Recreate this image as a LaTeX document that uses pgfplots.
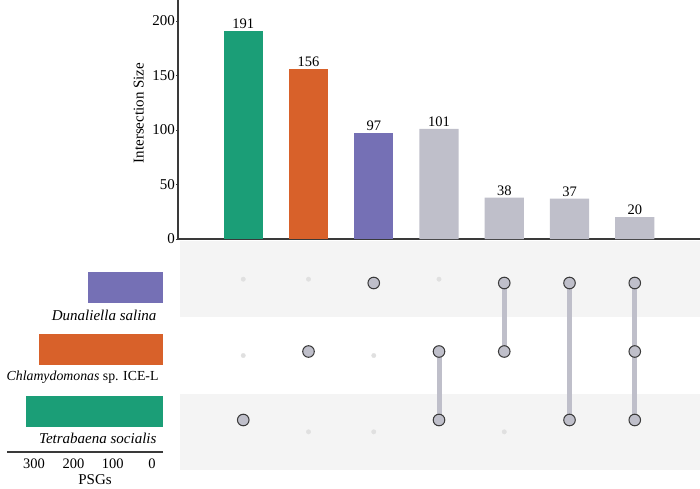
\documentclass[border=0pt]{standalone}
\usepackage{pgfplots}
\pgfplotsset{compat=1.18}
\usepackage{fontspec}
\setmainfont{Liberation Serif}
\definecolor{cgreen}{HTML}{1B9E77}
\definecolor{corange}{HTML}{D8612A}
\definecolor{cpurple}{HTML}{7570B5}
\definecolor{cgray}{HTML}{BFBFCA}
\definecolor{band}{HTML}{F4F4F4}
\definecolor{dotoff}{HTML}{E0E0E0}
\definecolor{axisgray}{HTML}{3A3A3A}
\begin{document}
\begin{tikzpicture}[x=1pt,y=1pt]
\useasboundingbox (0,0) rectangle (700,488);
% intersection size bars
\begin{axis}[at={(178pt,249pt)}, anchor=south west, scale only axis,
  width=522pt, height=239pt,
  xmin=-1, xmax=7, ymin=0, ymax=219.3,
  axis x line=bottom, axis y line=left,
  axis line style={-, line width=1.5pt, axisgray},
  xtick=\empty, ytick={0,50,100,150,200},
  tick style={axisgray, line width=0.8pt}, major tick length=2pt, tick align=outside,
  yticklabel style={font=\fontsize{15}{17}\selectfont, inner sep=1pt},
  /pgf/number format/assume math mode=true,
  ylabel={Intersection Size},
  ylabel style={font=\fontsize{15}{17}\selectfont, at={(axis description cs:-0.075,0.527)}, anchor=center},
  nodes near coords,
  nodes near coords style={font=\fontsize{14.5}{16}\selectfont, anchor=south, inner sep=2pt},
  clip=false]
\addplot[ybar, bar shift=0pt, bar width=0.6, fill=cgreen, draw=none] coordinates {(0,191)};
\addplot[ybar, bar shift=0pt, bar width=0.6, fill=corange, draw=none] coordinates {(1,156)};
\addplot[ybar, bar shift=0pt, bar width=0.6, fill=cpurple, draw=none] coordinates {(2,97)};
\addplot[ybar, bar shift=0pt, bar width=0.6, fill=cgray, draw=none] coordinates {(3,101) (4,38) (5,37) (6,20)};
\end{axis}
% matrix background bands and inactive dots
\begin{axis}[at={(178pt,18pt)}, anchor=south west, scale only axis,
  width=522pt, height=229pt,
  xmin=-1, xmax=7, ymin=-0.5, ymax=2.5, hide axis, clip=false]
\fill[band] (axis cs:-0.97,1.5) rectangle (axis cs:7,2.5);
\fill[band] (axis cs:-0.97,-0.5) rectangle (axis cs:7,0.5);
\addplot[only marks, mark=*, mark size=2.2pt, color=dotoff]
  coordinates {(0,1) (0,2) (1,0) (1,2) (2,0) (2,1) (3,2) (4,0) (5,1)};
\end{axis}
% matrix active dots
\begin{axis}[at={(178pt,33.75pt)}, anchor=south west, scale only axis,
  width=522pt, height=205.5pt,
  xmin=-1, xmax=7, ymin=-0.5, ymax=2.5, hide axis, clip=false]
\addplot[cgray, line width=5pt] coordinates {(3,0) (3,1)};
\addplot[cgray, line width=5pt] coordinates {(4,1) (4,2)};
\addplot[cgray, line width=5pt] coordinates {(5,0) (5,2)};
\addplot[cgray, line width=5pt] coordinates {(6,0) (6,2)};
\addplot[only marks, mark=*, mark size=5.8pt, mark options={fill=cgray, draw=axisgray, line width=1pt}]
  coordinates {(0,0) (1,1) (2,2) (3,0) (3,1) (4,1) (4,2) (5,0) (5,2) (6,0) (6,1) (6,2)};
\end{axis}
% set sizes
\begin{axis}[at={(7pt,36pt)}, anchor=south west, scale only axis,
  width=156pt, height=195pt,
  x dir=reverse, xmin=0, xmax=397, ymin=-0.656, ymax=2.5,
  axis x line=bottom, axis y line=none,
  axis line style={-, line width=1.5pt, axisgray},
  ytick=\empty, xtick={0,100,200,300}, major tick length=0pt,
  xticklabel style={font=\fontsize{14.5}{16}\selectfont, xshift=-11pt, yshift=-3pt},
  /pgf/number format/assume math mode=true,
  xlabel={PSGs}, xlabel style={font=\fontsize{15}{17}\selectfont, xshift=10pt, yshift=1pt},
  clip=false]
\addplot[xbar, bar shift=0pt, bar width=0.5, fill=cpurple, draw=none] coordinates {(192,2)};
\addplot[xbar, bar shift=0pt, bar width=0.5, fill=corange, draw=none] coordinates {(315,1)};
\addplot[xbar, bar shift=0pt, bar width=0.5, fill=cgreen, draw=none] coordinates {(349,0)};
\node[anchor=east, font=\fontsize{15}{17}\selectfont, xshift=-3pt] at (axis cs:0,1.56) {\textit{Dunaliella salina}};
\node[anchor=east, font=\fontsize{13.8}{17}\selectfont, xshift=-1pt] at (axis cs:0,0.56) {\textit{Chlamydomonas} sp. ICE-L};
\node[anchor=east, font=\fontsize{15}{17}\selectfont, xshift=-3pt] at (axis cs:0,-0.44) {\textit{Tetrabaena socialis}};
\end{axis}
\end{tikzpicture}
\end{document}
